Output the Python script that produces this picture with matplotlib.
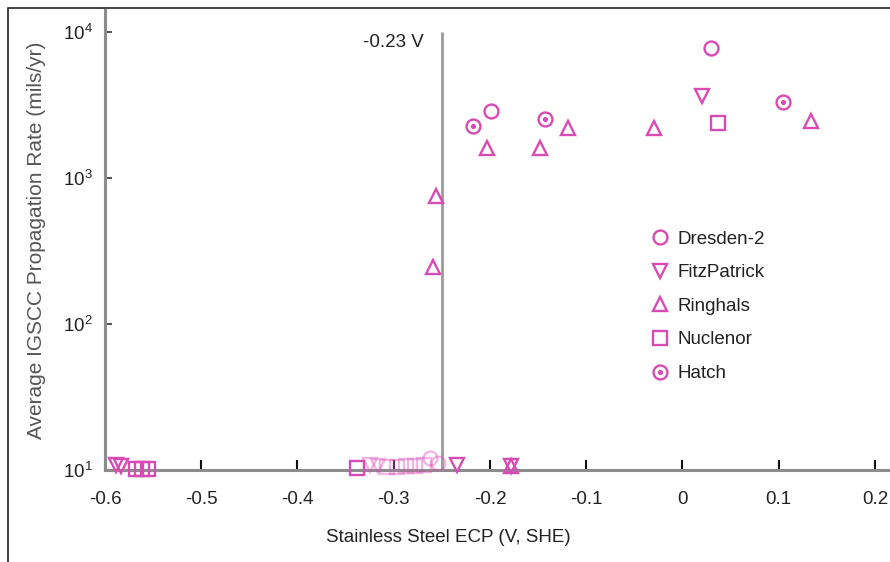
import matplotlib
matplotlib.use("Agg")
import matplotlib.pyplot as plt
from matplotlib.patches import Rectangle

plt.rcParams['font.family'] = ['Liberation Sans', 'DejaVu Sans']
plt.rcParams['mathtext.default'] = 'regular'

# ---- data ----
dresden_x = [-0.199, 0.030]
dresden_y = [2880, 7770]
fitz_x = [-0.589, -0.583, -0.234, -0.178, 0.020]
fitz_y = [10.9, 10.6, 10.8, 10.6, 3650]
ringhals_x = [-0.259, -0.256, -0.203, -0.148, -0.119, -0.030, 0.134, -0.178]
ringhals_y = [245, 753, 1600, 1600, 2200, 2200, 2450, 10.6]
nuclenor_x = [-0.568, -0.562, -0.555, -0.338, 0.037]
nuclenor_y = [10.2, 10.2, 10.2, 10.3, 2380]
hatch_x = [-0.218, -0.143, 0.104]
hatch_y = [2270, 2535, 3320]

# faded cluster of points near -0.3 V
faded_fitz_x = [-0.325, -0.316]
faded_fitz_y = [10.9, 10.7]
faded_sq_x = [-0.307, -0.297, -0.287, -0.278, -0.269]
faded_sq_y = [10.5, 10.5, 10.6, 10.6, 10.8]
faded_circ_x = [-0.262, -0.254]
faded_circ_y = [12.0, 11.2]

threshold_x = -0.25
threshold_label = "-0.23 V"

x_ticks = [-0.6, -0.5, -0.4, -0.3, -0.2, -0.1, 0.0, 0.1, 0.2]
x_ticklabels = ["-0.6", "-0.5", "-0.4", "-0.3", "-0.2", "-0.1", "0", "0.1", "0.2"]
y_ticks = [10, 100, 1000, 10000]

col = '#d84bb5'
ms = 10
mew = 1.7
fs = 13.5

fig = plt.figure(figsize=(8.9, 5.62), dpi=100)
fig.patches.append(Rectangle((8/890, -0.1), 1.2, 1 - 8/562 + 0.1, transform=fig.transFigure,
                             fill=False, edgecolor='#222222', linewidth=1.2))
ax = fig.add_axes([105/890, 1 - 470/562, 1 - 105/890, (470 - 10)/562])
ax.set_yscale('log')
ax.set_xlim(-0.6, 0.2156)
ax.set_ylim(10, 10 ** (1 + 460/146))

ax.vlines(threshold_x, 10, 1e4, color='#9a9a9a', linewidth=2, zorder=1)
ax.text(threshold_x - 0.019, 10 ** 3.93, threshold_label, ha='right', va='center',
        fontsize=fs, color='#222222')

common = dict(linestyle='none', markersize=ms, markeredgewidth=mew, markerfacecolor='none',
              markeredgecolor=col, clip_on=False, zorder=3)

ax.plot(faded_fitz_x, faded_fitz_y, marker='v', alpha=0.4, **common)
ax.plot(faded_sq_x, faded_sq_y, marker='s', alpha=0.4, **common)
ax.plot(faded_circ_x, faded_circ_y, marker='o', alpha=0.4, **common)

h1, = ax.plot(dresden_x, dresden_y, marker='o', **common)
h2, = ax.plot(fitz_x, fitz_y, marker='v', **common)
h3, = ax.plot(ringhals_x, ringhals_y, marker='^', **common)
h4, = ax.plot(nuclenor_x, nuclenor_y, marker='s', **common)
h5a, = ax.plot(hatch_x, hatch_y, marker='o', **common)
h5b, = ax.plot(hatch_x, hatch_y, linestyle='none', marker='o', markersize=2.7,
               color=col, clip_on=False, zorder=3)

for s in ['top', 'right']:
    ax.spines[s].set_visible(False)
for s in ['left', 'bottom']:
    ax.spines[s].set_color('#8c8c8c')
    ax.spines[s].set_linewidth(2.2)

ax.set_xticks(x_ticks)
ax.set_xticklabels(x_ticklabels)
ax.set_yticks(y_ticks)
ax.yaxis.set_minor_locator(matplotlib.ticker.NullLocator())
ax.tick_params(axis='x', direction='in', length=7, width=1.5, color='#111111',
               labelsize=fs, labelcolor='#222222', pad=15)
ax.tick_params(axis='y', direction='in', length=5, width=1.5, color='#555555',
               labelsize=fs, labelcolor='#222222', pad=9)

fig.text(448/890, 1 - 538/562, "Stainless Steel ECP (V, SHE)", fontsize=fs,
         color='#222222', ha='center', va='center')
ax.set_ylabel("Average IGSCC Propagation Rate (mils/yr)", fontsize=15, color='#555555',
              labelpad=12)

leg = ax.legend([h1, h2, h3, h4, (h5a, h5b)],
                ["Dresden-2", "FitzPatrick", "Ringhals", "Nuclenor", "Hatch"],
                loc='upper left', bbox_to_anchor=(650.5/890, 1 - 230.5/562),
                bbox_transform=fig.transFigure, frameon=False, fontsize=fs,
                handlelength=1.0, handletextpad=0.46, labelspacing=0.88,
                borderpad=0, borderaxespad=0)
for t in leg.get_texts():
    t.set_color('#222222')

fig.savefig('out.png', dpi=100)
